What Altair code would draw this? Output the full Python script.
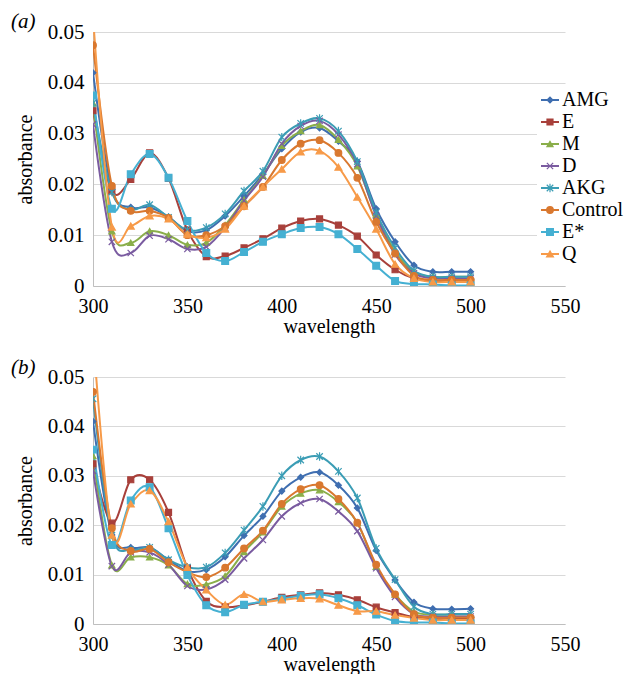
import altair as alt
import pandas as pd

wavelength = list(range(300, 501, 10))
series_names = ["AMG", "E", "M", "D", "AKG", "Control", "E*", "Q"]
colors = ["#3F6EB0", "#A8403B", "#8AAE4A", "#7A5BA0", "#3B9DB5", "#D9782F", "#45B0D2", "#F79A48"]
shapes = ["diamond", "square", "triangle-up",
          "M-1,-1L1,1M-1,1L1,-1",
          "M-1,-1L1,1M-1,1L1,-1M0,-1.3L0,1.3",
          "circle", "square", "triangle-up"]
sizes = [34, 48, 42, 32, 42, 42, 48, 42]

# panel (a)
a_AMG = [0.042, 0.019, 0.0155, 0.0155, 0.0136, 0.0108, 0.011, 0.0138, 0.0177, 0.022, 0.027, 0.0303, 0.0311, 0.0285, 0.0245, 0.0152, 0.0087, 0.0041, 0.0028, 0.0028, 0.0028]
a_E = [0.0345, 0.0187, 0.021, 0.0262, 0.0212, 0.011, 0.0058, 0.0059, 0.0075, 0.0093, 0.0114, 0.0128, 0.0132, 0.012, 0.0098, 0.0061, 0.0032, 0.0015, 0.001, 0.001, 0.0009]
a_M = [0.036, 0.0108, 0.0085, 0.0108, 0.01, 0.0081, 0.0085, 0.012, 0.017, 0.0217, 0.0276, 0.0305, 0.0317, 0.0288, 0.0236, 0.014, 0.0068, 0.0028, 0.0018, 0.0018, 0.0018]
a_D = [0.0318, 0.0087, 0.0065, 0.0099, 0.0092, 0.0073, 0.0077, 0.0115, 0.0168, 0.0215, 0.028, 0.0315, 0.0325, 0.0298, 0.024, 0.0138, 0.0062, 0.0025, 0.0015, 0.0015, 0.0015]
a_AKG = [0.036, 0.0185, 0.015, 0.016, 0.0135, 0.011, 0.0115, 0.0142, 0.0187, 0.0226, 0.0293, 0.032, 0.033, 0.0305, 0.0245, 0.0145, 0.0075, 0.003, 0.0018, 0.0018, 0.0018]
a_Control = [0.0474, 0.0197, 0.0148, 0.0148, 0.0134, 0.01, 0.01, 0.0118, 0.0157, 0.0195, 0.0248, 0.028, 0.0287, 0.0262, 0.0213, 0.0126, 0.0064, 0.002, 0.0012, 0.0012, 0.0012]
a_Estar = [0.0375, 0.0152, 0.022, 0.026, 0.0213, 0.0128, 0.0065, 0.0049, 0.0067, 0.0087, 0.0102, 0.0114, 0.0116, 0.0102, 0.0073, 0.004, 0.001, 0.0004, 0.0003, 0.0001, 0.0001]
a_Q = [0.053, 0.0116, 0.0118, 0.0138, 0.0132, 0.0102, 0.0095, 0.0112, 0.0157, 0.0195, 0.023, 0.0264, 0.0266, 0.0234, 0.0175, 0.0112, 0.0043, 0.0015, 0.0008, 0.0008, 0.0008]

# panel (b)
b_AMG = [0.041, 0.018, 0.0155, 0.0155, 0.013, 0.0107, 0.011, 0.0136, 0.0179, 0.0218, 0.0269, 0.0297, 0.0307, 0.0281, 0.0235, 0.0149, 0.0089, 0.0044, 0.0031, 0.003, 0.0031]
b_E = [0.0324, 0.0204, 0.0292, 0.0292, 0.0226, 0.0113, 0.0046, 0.0034, 0.0038, 0.0045, 0.0054, 0.0059, 0.0063, 0.0059, 0.0049, 0.0034, 0.0023, 0.0014, 0.001, 0.001, 0.001]
b_M = [0.034, 0.0119, 0.0135, 0.0135, 0.0119, 0.0081, 0.008, 0.0097, 0.0146, 0.0186, 0.0238, 0.0264, 0.0271, 0.0247, 0.0205, 0.0116, 0.006, 0.0025, 0.0019, 0.0019, 0.0019]
b_D = [0.031, 0.0117, 0.0145, 0.0145, 0.012, 0.0077, 0.007, 0.009, 0.0133, 0.017, 0.0218, 0.0245, 0.0253, 0.0228, 0.0188, 0.0113, 0.0055, 0.002, 0.0015, 0.0015, 0.0015]
b_AKG = [0.0456, 0.018, 0.015, 0.0155, 0.013, 0.0115, 0.0115, 0.0144, 0.019, 0.0238, 0.03, 0.0332, 0.0339, 0.0309, 0.0255, 0.0153, 0.009, 0.0035, 0.002, 0.002, 0.002]
b_Control = [0.047, 0.0194, 0.0148, 0.0152, 0.0125, 0.0105, 0.0095, 0.0114, 0.0153, 0.0189, 0.0243, 0.0273, 0.0281, 0.0253, 0.0205, 0.012, 0.006, 0.002, 0.0013, 0.0013, 0.0013]
b_Estar = [0.0353, 0.016, 0.025, 0.0277, 0.0194, 0.0099, 0.0038, 0.0024, 0.0039, 0.0045, 0.0051, 0.0057, 0.006, 0.0052, 0.0038, 0.0019, 0.0006, 0.0003, 0.0003, 0.0001, 0.0001]
b_Q = [0.0585, 0.018, 0.0243, 0.027, 0.0207, 0.0115, 0.0069, 0.0039, 0.006, 0.0045, 0.0049, 0.0052, 0.0051, 0.0038, 0.0026, 0.0026, 0.0018, 0.0012, 0.0008, 0.0008, 0.0008]

panel_a = [a_AMG, a_E, a_M, a_D, a_AKG, a_Control, a_Estar, a_Q]
panel_b = [b_AMG, b_E, b_M, b_D, b_AKG, b_Control, b_Estar, b_Q]

FONT = "Liberation Serif"
W = 472


def long_df(panel):
    rows = []
    for name, vals in zip(series_names, panel):
        for wl, v in zip(wavelength, vals):
            rows.append({"series": name, "wavelength": wl, "absorbance": v})
    return pd.DataFrame(rows)


color_enc = alt.Color("series:N", scale=alt.Scale(domain=series_names, range=colors), legend=None)
stroke_enc = alt.Stroke("series:N", scale=alt.Scale(domain=series_names, range=colors), legend=None)
shape_enc = alt.Shape("series:N", scale=alt.Scale(domain=series_names, range=shapes), legend=None)
size_enc = alt.Size("series:N", scale=alt.Scale(domain=series_names, range=sizes), legend=None)


def panel_chart(panel, label, label_y, with_legend, height):
    df = long_df(panel)
    x = alt.X("wavelength:Q",
              scale=alt.Scale(domain=[300, 550], nice=False, zero=False),
              axis=alt.Axis(values=[300, 350, 400, 450, 500, 550], title="wavelength",
                            grid=False, ticks=False, labelPadding=10, titlePadding=0,
                            labelFlush=False, labelOverlap=False,
                            domainColor="#BFBFBF", labelFont=FONT, labelFontSize=20,
                            titleFont=FONT, titleFontSize=20, titleFontWeight="normal",
                            labelColor="black", titleColor="black"))
    y = alt.Y("absorbance:Q",
              scale=alt.Scale(domain=[0, 0.05], nice=False),
              axis=alt.Axis(values=[0, 0.01, 0.02, 0.03, 0.04, 0.05],
                            labelExpr="datum.value == 0 ? '0' : format(datum.value, '.2f')",
                            title="absorbance", grid=True, gridColor="#D9D9D9",
                            labelFlush=False, labelOverlap=False,
                            ticks=False, domainColor="#BFBFBF", labelPadding=9,
                            titlePadding=12, labelFont=FONT, labelFontSize=21,
                            titleFont=FONT, titleFontSize=20, titleFontWeight="normal",
                            labelColor="black", titleColor="black"))
    base = alt.Chart(df)
    lines = base.mark_line(interpolate="cardinal", strokeWidth=2, clip=True).encode(
        x=x, y=y, color=color_enc, order=alt.Order("wavelength:Q"))
    points = base.mark_point(filled=True, strokeWidth=1.2, opacity=1, clip=True).encode(
        x=x, y=y, color=color_enc, stroke=stroke_enc, shape=shape_enc, size=size_enc)
    lab = alt.Chart(pd.DataFrame({"t": [label]})).mark_text(
        font=FONT, fontStyle="italic", fontSize=21, align="left", baseline="top",
        color="black").encode(text="t:N", x=alt.value(-82), y=alt.value(label_y))
    data_layer = alt.layer(lines, points, lab)
    if not with_legend:
        return data_layer.properties(width=W, height=height)

    leg_df = pd.DataFrame({"series": series_names, "pos": list(range(len(series_names)))})
    leg_df["lo"] = leg_df["pos"] - 0.5
    leg_df["hi"] = leg_df["pos"] + 0.5
    ys = alt.Scale(domain=[0, 7], range=[68, 222])
    lbase = alt.Chart(leg_df)
    bg = lbase.mark_rect(color="white").encode(
        y=alt.Y("lo:Q", scale=ys, axis=None), y2="hi:Q",
        x=alt.value(444), x2=alt.value(530))
    rule = lbase.mark_rule(strokeWidth=2).encode(
        y=alt.Y("pos:Q", scale=ys, axis=None), x=alt.value(448), x2=alt.value(466),
        color=color_enc)
    lpts = lbase.mark_point(filled=True, strokeWidth=1.2, opacity=1).encode(
        y=alt.Y("pos:Q", scale=ys, axis=None), x=alt.value(457),
        color=color_enc, stroke=stroke_enc, shape=shape_enc, size=size_enc)
    ltxt = lbase.mark_text(font=FONT, fontSize=20, align="left", baseline="middle",
                           color="black").encode(
        y=alt.Y("pos:Q", scale=ys, axis=None), x=alt.value(469), text="series:N")
    legend_layer = alt.layer(bg, rule, lpts, ltxt)
    return alt.layer(data_layer, legend_layer).resolve_scale(y="independent").properties(
        width=W, height=height)


chart = alt.vconcat(
    panel_chart(panel_a, "(a)", -21, True, 254),
    panel_chart(panel_b, "(b)", -20, False, 247),
    spacing=21,
).configure_view(stroke=None).properties(
    padding={"left": 3, "top": 3, "right": 0, "bottom": 0},
    background="white",
)

chart.save("out.html", embed_options={"renderer": "svg", "actions": False})
